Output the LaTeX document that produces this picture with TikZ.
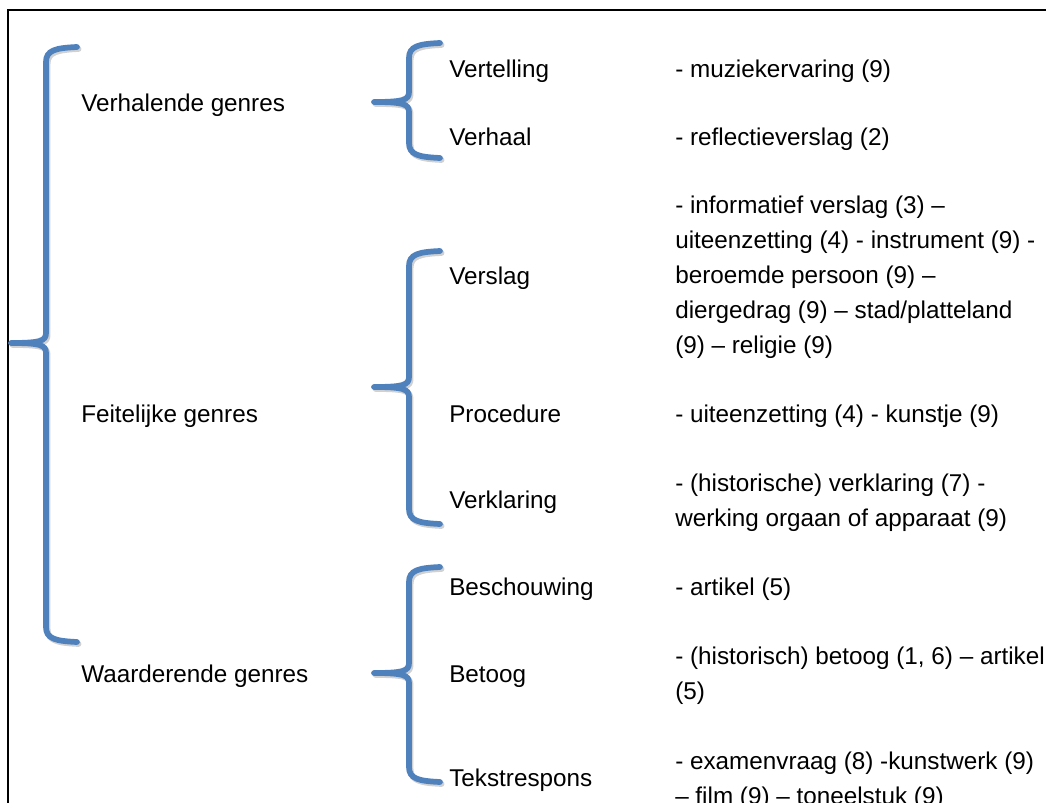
\documentclass[tikz,border=0pt]{standalone}
\usepackage{fontspec}
\setmainfont{Liberation Sans}
\usetikzlibrary{positioning}

\definecolor{braceblue}{HTML}{4F81BD}

% #1 = x of the stem, #2 = top, #3 = tip, #4 = bottom
\newcommand{\genrebrace}[4]{%
  \foreach \bstyle in {braceshadow,bracestem}
    \draw[\bstyle] (#1+31,#2-3) .. controls (#1+10,#2-2) and (#1,#2) .. (#1,#2+12)
      -- (#1,#3-10) .. controls (#1,#3-2) and (#1-6,#3) .. (#1-35,#3)
      .. controls (#1-6,#3) and (#1,#3+2) .. (#1,#3+10)
      -- (#1,#4-12) .. controls (#1,#4) and (#1+10,#4+2) .. (#1+31,#4+3);
}

\begin{document}
\begin{tikzpicture}[x=0.75pt,y=-0.75pt,
    every node/.style={inner sep=0pt,anchor=base west,
      font=\fontsize{18.2pt}{26.25pt}\selectfont},
    genre/.style={},
    sub/.style={},
    ex/.style={align=left},
    bracestem/.style={draw=braceblue,line width=4.3pt,line cap=round,line join=round},
    braceshadow/.style={draw=black!18,line width=4.3pt,line cap=round,line join=round,
      xshift=1.2pt,yshift=-1.5pt},
    frame/.style={draw=black,line width=1.5pt}]
  \useasboundingbox (0,0) rectangle (1046,803);
  \draw[frame] (8,803) -- (8,10) -- (1046,10);

  \path
    % 1st column
    (81,111)  node[genre] (verhalend)  {Verhalende genres}
    (81,422)  node[genre] (feitelijk)  {Feitelijke genres}
    (81,682)  node[genre] (waarderend) {Waarderende genres}
    % 2nd column
    (449,77)  node[sub] (vertelling)  {Vertelling}
    (449,145) node[sub] (verhaal)     {Verhaal}
    (449,284) node[sub] (verslag)     {Verslag}
    (449,422) node[sub] (procedure)   {Procedure}
    (449,508) node[sub] (verklaring)  {Verklaring}
    (449,595) node[sub] (beschouwing) {Beschouwing}
    (449,682) node[sub] (betoog)      {Betoog}
    (449,786) node[sub] (respons)     {Tekstrespons}
    % 3rd column (multi-line texts sit on their last line)
    (675,77)  node[ex] (exvertelling) {- muziekervaring (9)}
    (675,145) node[ex] (exverhaal)    {- reflectieverslag (2)}
    (675,353) node[ex] (exverslag)    {- informatief verslag (3) --\\
      uiteenzetting (4) - instrument (9) -\\
      beroemde persoon (9) --\\
      diergedrag (9) -- stad/platteland\\
      (9) -- religie (9)}
    (675,422) node[ex] (exprocedure)  {- uiteenzetting (4) - kunstje (9)}
    (675,526) node[ex] (exverklaring) {- (historische) verklaring (7) -\\
      werking orgaan of apparaat (9)}
    (675,595) node[ex] (exbeschouwing) {- artikel (5)}
    (675,699) node[ex] (exbetoog)     {- (historisch) betoog (1, 6) -- artikel\\
      (5)}
    (675,804) node[ex] (exrespons)    {- examenvraag (8) -kunstwerk (9)\\
      -- film (9) -- toneelstuk (9)};

  % braces
  \genrebrace{46}{50}{343}{639}
  \genrebrace{409}{46}{102}{155}
  \genrebrace{409}{254}{387}{521}
  \genrebrace{409}{570}{673}{779}
\end{tikzpicture}
\end{document}
